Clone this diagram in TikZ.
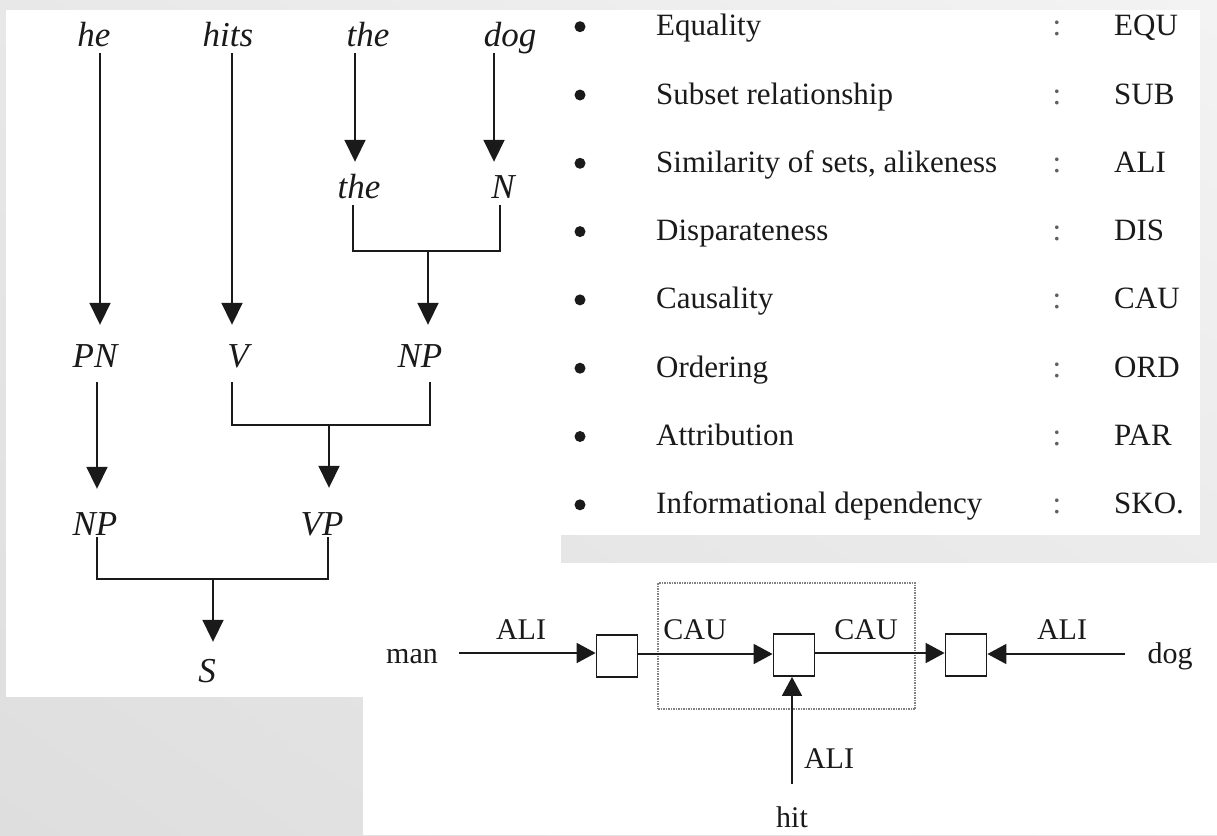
\documentclass[tikz,border=0pt]{standalone}
\usepackage{fontspec}
\setmainfont{Liberation Serif}
\usetikzlibrary{arrows.meta,shadings}
\definecolor{ink}{HTML}{1A1A1A}
\definecolor{bgdark}{HTML}{DEDEDE}
\definecolor{bgmid}{HTML}{E8E8E8}
\definecolor{bglight}{HTML}{F3F3F3}
\begin{document}
\begin{tikzpicture}[x=1pt,y=-1pt,
  word/.style={font=\fontsize{35}{40}\selectfont\itshape, inner sep=0pt,
               text height=24pt, text depth=7pt, anchor=base, text=ink},
  tline/.style={line width=1.8pt, draw=ink},
  tarr/.style={tline, -{Triangle[width=21pt,length=22pt]}},
  item/.style={font=\fontsize{31}{36}\selectfont, inner sep=0pt, anchor=base west, text=ink},
  sep/.style={font=\fontsize{31}{36}\selectfont, inner sep=0pt, anchor=base, text=ink!70},
  dotbullet/.style={circle, fill=ink, minimum size=11pt, inner sep=0pt},
  rel/.style={font=\fontsize{30}{36}\selectfont, inner sep=0pt, anchor=base, text=ink},
  slot/.style={draw=ink, line width=1.8pt, minimum width=41pt, minimum height=42pt, inner sep=0pt},
  rarr/.style={line width=1.8pt, draw=ink, -{Triangle[width=20pt,length=19pt]}},
]
\useasboundingbox (0,0) rectangle (1217,835);

% slide background and the white panels
\shade[upper left=bgmid, upper right=bglight, lower left=bgdark, lower right=bgmid]
  (0,0) rectangle (1217,835);
\fill[white] (6,9.5) rectangle (561,697);
\fill[white] (561,9.5) rectangle (1200,535);
\fill[white] (363,563) rectangle (1217,835);

% ---------- parse tree ----------
\node[word] (he)   at (94,46)   {he};
\node[word] (hits) at (228,46)  {hits};
\node[word] (the1) at (368,46)  {the};
\node[word] (dog)  at (510,46)  {dog};
\node[word] (the2) at (359,198) {the};
\node[word] (N)    at (503,198) {N};
\node[word] (PN)   at (95,367)  {PN};
\node[word] (V)    at (238,367) {V};
\node[word] (NPa)  at (420,367) {NP};
\node[word] (NPb)  at (95,535)  {NP};
\node[word] (VP)   at (322,535) {VP};
\node[word] (S)    at (207,682) {S};

\coordinate (j1) at (428,251);
\coordinate (j2) at (329,425);
\coordinate (j3) at (213,579);

\draw[tarr, shorten >=18pt] ([xshift=6pt]he.south) -- ([xshift=6pt]he.south |- PN.north);
\draw[tarr, shorten >=18pt] ([xshift=4pt]hits.south) -- ([xshift=4pt]hits.south |- V.north);
\draw[tarr, shorten >=12pt] ([xshift=-13pt]the1.south) -- ([xshift=-13pt]the1.south |- the2.north);
\draw[tarr, shorten >=12pt] ([xshift=-16pt]dog.south) -- ([xshift=-16pt]dog.south |- N.north);

\draw[tline] ([xshift=-6pt]the2.south) |- (j1) -| ([xshift=-3pt]N.south);
\draw[tarr, shorten >=18pt] (j1) -- (j1 |- NPa.north);

\draw[tline, shorten <=8pt, shorten >=8pt] ([xshift=-6pt]V.south) |- (j2) -| ([xshift=10pt]NPa.south);
\draw[tarr, shorten >=23pt] (j2) -- (j2 |- VP.north);

\draw[tarr, shorten <=8pt, shorten >=22pt] ([xshift=2pt]PN.south) -- ([xshift=2pt]PN.south |- NPb.north);

\draw[tline, shorten <=-5pt, shorten >=-5pt] ([xshift=2pt]NPb.south) |- (j3) -| ([xshift=6pt]VP.south);
\draw[tarr, shorten >=16pt] (j3) -- (j3 |- S.north);

% ---------- relation list ----------
\foreach \i/\t/\c in {0/Equality/EQU, 1/Subset relationship/SUB,
    2/{Similarity of sets, alikeness}/ALI, 3/Disparateness/DIS,
    4/Causality/CAU, 5/Ordering/ORD, 6/Attribution/PAR,
    7/Informational dependency/SKO.}{
  \node[dotbullet] (b\i) at (580,{26.7+68.3*\i}) {};
  \node[item] (t\i) at (656,{35.7+68.3*\i}) {\t};
  \node[sep]  (s\i) at (1057,{35.7+68.3*\i}) {:};
  \node[item] (c\i) at (1114,{35.7+68.3*\i}) {\c};
}

% ---------- relation graph ----------
\node[draw=ink!55, densely dotted, line width=1.5pt, minimum width=257pt,
      minimum height=126pt, inner sep=0pt] (grp) at (786.5,646) {};

\node[slot] (k1) at (617,656) {};
\node[slot] (k2) at (794,655) {};
\node[slot] (k3) at (966,655) {};

\node[rel] (man) at (412,663) {man};
\node[rel] (dg)  at (1170,663) {dog};
\node[rel] (hit) at (792,827) {hit};

\node[rel] (l1) at (521,639) {ALI};
\node[rel] (l2) at (695,639) {CAU};
\node[rel] (l3) at (866,639) {CAU};
\node[rel] (l4) at (1062,639) {ALI};
\node[rel] (l5) at (829,768) {ALI};

\draw[rarr, shorten <=21pt] ([yshift=3pt]k1.west -| man.east) -- ([yshift=3pt]k1.west);
\draw[rarr] ([yshift=2pt]k1.east) -- ([yshift=2pt]k1.east -| k2.west);
\draw[rarr] ([yshift=2pt]k2.east) -- ([yshift=2pt]k2.east -| k3.west);
\draw[rarr, shorten <=22pt] ([yshift=1pt]k3.east -| dg.west) -- ([yshift=1pt]k3.east);
\draw[rarr, shorten <=22pt] ([xshift=-2pt]k2.south |- hit.north) -- ([xshift=-2pt]k2.south);
\end{tikzpicture}
\end{document}
